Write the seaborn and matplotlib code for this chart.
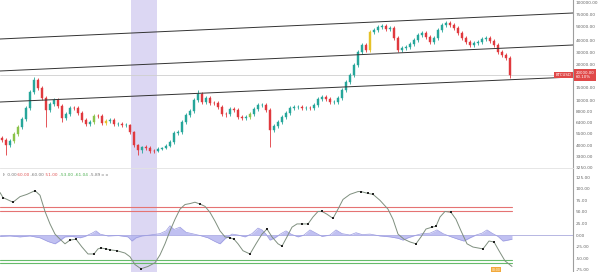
import numpy as np
import matplotlib
matplotlib.use("Agg")
import matplotlib.pyplot as plt
import seaborn as sns

# ---------------- data ----------------
first_open = 4875
closes = [4625, 4000, 4500, 5375, 5990, 6840, 8540, 13080, 16530, 14620,
          10770, 8180, 9270, 10000, 8910, 6985, 7565, 8544, 8480, 7710,
          6695, 6236, 6400, 7275, 7230, 6318, 6550, 6690, 6240, 6250,
          6150, 6160, 5580, 4000, 3680, 3872, 3808, 3616, 3600, 3744,
          3808, 3936, 4375, 5500, 5580, 6400, 7420, 8000, 10000, 12305,
          9636, 10765, 9454, 9400, 8726, 7565, 7500, 8362, 8180, 7130,
          6985, 7130, 7565, 8362, 9090, 9150, 8180, 5744, 6072, 6400,
          7130, 7710, 8544, 8726, 8800, 8544, 8600, 8500, 9090, 10380,
          11150, 10380, 9636, 9700, 10765, 13845, 16094, 17613, 19783, 30000,
          35835, 31670, 45716, 47144, 49286, 50000, 47858, 48572, 41432, 31670,
          33336, 34169, 36668, 40000, 43574, 45002, 42146, 38334, 41432, 47144,
          52087, 56253, 52087, 48572, 45002, 41432, 38334, 35835, 37501, 38334,
          40718, 41432, 39167, 35835, 30000, 27501, 25002, 17613]
highs = [5125, 4875, 4750, 5580, 6154, 7130, 8908, 13845, 17179, 16962,
         15226, 11535, 9636, 10765, 10765, 9272, 7855, 8908, 8908, 8908,
         8000, 6985, 6695, 7565, 7565, 7565, 6840, 6985, 6985, 6400,
         6400, 6318, 6236, 5662, 4125, 3936, 4000, 3936, 3744, 3872,
         3872, 4125, 4625, 5662, 5744, 6695, 7710, 8362, 10765, 13845,
         13075, 11535, 11535, 9818, 9818, 9090, 7855, 8726, 8726, 8544,
         7420, 7420, 7855, 8726, 9454, 9454, 9454, 8544, 6236, 6695,
         7420, 8000, 8908, 9090, 9090, 9090, 8908, 8908, 9454, 11150,
         11920, 11920, 11150, 10000, 11535, 14615, 16528, 18047, 20837, 31670,
         37501, 37501, 47144, 48572, 52083, 54167, 54167, 50000, 50000, 42860,
         35002, 35835, 38334, 41432, 45002, 46430, 46430, 43574, 42860, 48572,
         56250, 60417, 60417, 56250, 50000, 46430, 42860, 40000, 39167, 40000,
         42146, 42860, 42860, 40718, 37501, 31670, 29167, 26668]
lows = [4375, 3360, 3872, 4250, 5125, 5826, 6550, 8180, 12305, 13845,
        10000, 5990, 7855, 8908, 8544, 6400, 6695, 7275, 8180, 7420,
        6400, 6072, 6072, 6236, 6985, 6154, 6154, 6318, 6072, 6072,
        5990, 5990, 5375, 3872, 3360, 3488, 3680, 3488, 3488, 3552,
        3680, 3744, 3872, 4125, 5250, 5375, 6236, 7130, 7710, 9636,
        9272, 9272, 9090, 9090, 8362, 7275, 7130, 7275, 7855, 6840,
        6695, 6695, 6840, 7275, 8000, 8726, 7855, 3872, 5580, 5908,
        6236, 6840, 7420, 8180, 8362, 8180, 8180, 8180, 8180, 8726,
        9818, 9818, 9272, 9272, 9272, 10000, 13075, 15660, 17179, 19349,
        28334, 30000, 30000, 44288, 45716, 47858, 46430, 46430, 40000, 30000,
        30000, 31670, 32503, 35002, 38334, 42146, 40718, 36668, 36668, 40000,
        45716, 49286, 49286, 47144, 43574, 40000, 36668, 34169, 34169, 35835,
        36668, 39167, 37501, 34169, 28334, 25835, 23336, 16962]
lime_idx = [3, 4, 23, 62]
yellow_idx = [26, 92]

# channel lines (candle index, price)
channel_x = [-0.5, 142.75]
channel_top = [40718, 77087]
channel_mid = [18481, 35835]
channel_low = [9636, 17179]

# highlighted period (candle index)
band = [32.25, 38.75]

# right axis labels
price_ticks = [100000, 75000, 50000, 40000, 30000, 20000, 15000, 10000,
               8000, 6400, 5500, 4000, 3300, 3250]
osc_ticks = [125, 100, 75, 50, 25, 0, -25, -50, -75]

# oscillator
osc_x = [-0.5, 0.25, 2.75, 4.5, 6.25, 8.25, 9.5, 10.75, 12, 13.25,
         14.5, 15.75, 17, 18.5, 20, 21.5, 23, 24, 24.75, 26,
         27, 28.75, 30.75, 32, 33.25, 34.75, 36.5, 38.25, 39.5, 40.75,
         42, 43.25, 44.5, 45.75, 47, 48.25, 49.5, 50.75, 52, 53.25,
         54.5, 55.75, 57, 58, 59, 60.25, 62, 63.5, 65, 66.25,
         67.5, 69, 70, 71.25, 72.5, 73.75, 75, 76.5, 77.75, 79,
         80, 81.25, 82.75, 84, 85.25, 87, 89, 89.75, 91.5, 92.75,
         94.5, 96.5, 97.75, 99, 100.5, 102, 103.5, 104.75, 106, 107.5,
         108.5, 109.5, 110.75, 112.25, 113.5, 114.75, 116.25, 117.75, 119, 120.25,
         121.75, 123, 124.25, 125.75, 127.5]
osc_y = [92, 81, 71, 83, 88, 96, 86, 51, 24, 2,
         -9, -19, -11, -9, -26, -41, -41, -30, -28, -30,
         -32, -34, -39, -47, -64, -73, -68, -60, -43, -19,
         9, 34, 56, 66, 68, 71, 67, 62, 49, 30,
         9, -4, -6, -9, -19, -34, -41, -19, 2, 13,
         -4, -19, -24, -4, 17, 24, 24, 24, 39, 51,
         51, 45, 36, 56, 77, 88, 94, 94, 90, 88,
         75, 56, 34, 2, -9, -15, -19, -4, 13, 17,
         19, 39, 51, 49, 34, 9, -19, -26, -28, -30,
         -13, -15, -34, -56, -68]
osc_dots = [1, 2, 5, 12, 13, 16, 18, 19, 20, 21, 25, 36, 42, 43, 46, 49, 52,
            56, 57, 60, 62, 67, 68, 69, 76, 79, 80, 83, 89, 91]

hist_x = [-0.5, 2, 4.5, 7, 9.5, 11.5, 13.25, 14.5, 15.75, 17.5,
          19.5, 20.75, 22.5, 23.5, 24.5, 26.5, 29, 31.5, 32.5, 33.5,
          35, 37, 39.5, 41, 42, 43, 44.5, 46, 47.5, 49.5,
          51.5, 53.25, 54.5, 55.75, 57.5, 59, 60.75, 62.5, 64, 65,
          66, 67, 68.25, 69.75, 71, 72.25, 74, 75.5, 77, 78.5,
          80, 82, 83.5, 85, 87, 88.5, 90, 92, 94.5, 97,
          99, 100.25, 101.5, 103.25, 105, 107, 108.75, 110.25, 112, 114,
          115.5, 117, 118.5, 120, 121.25, 122.5, 124, 125.25, 126.5, 127.5]
hist_y = [-3, -2, -4, -2, -6, -14, -19, -12, -4, -3,
          -6, -3, 4, 9, 2, -2, -1, -4, -13, -6,
          -2, 0, 3, 9, 20, 12, 17, 6, 3, -1,
          -6, -14, -19, -8, 2, 0, -4, 3, 15, 11,
          2, -11, -6, 3, 9, 2, -4, 0, 11, 4,
          -3, 0, 11, 3, 0, 5, 1, 2, -2, -4,
          -7, -11, -6, -1, 3, 4, 11, 3, -3, -9,
          -13, -6, 0, 4, 11, 4, -3, -13, -11, -9]
osc_levels_red = [60, 51]
osc_levels_green = [-53, -60]

legend_parts = [("l)", "#777777"), ("0.00", "#777777"), ("60.00", "#e05555"),
                ("-60.00", "#777777"), ("51.00", "#e05555"), ("-53.00", "#4caf50"),
                ("-61.04", "#4caf50"), ("-5.89", "#777777"), ("\u00a4 \u00a4", "#777777")]
symbol_label = "BTCUSD"
price_label = "20000.00\n60.10%"

# ---------------- style ----------------
UP = "#26a69a"
DOWN = "#e0393e"
LIME = "#8bc34a"
YELLOW = "#e6c229"
BAND = "#dcd7f3"

sns.set_theme(style="white")
plt.rcParams["font.family"] = ["DejaVu Sans"]

fig = plt.figure(figsize=(6, 2.72), dpi=100)
ax = fig.add_axes([0, 104 / 272, 573 / 600, 168 / 272])
ax2 = fig.add_axes([0, 0, 573 / 600, 104 / 272])

# custom price scale matched to the reference axis labels
anchor_vals = np.array([1000, 3250, 3300, 4000, 5500, 6400, 8000, 10000, 15000,
                        20000, 30000, 40000, 50000, 75000, 100000, 200000], float)
anchor_pos = -np.array([200, 167, 156, 145, 133, 122, 111, 100, 87, 64, 52,
                        40, 26, 14, 2, -44], float)


def fwd(v):
    return np.interp(np.asarray(v, float), anchor_vals, anchor_pos)


def inv(h):
    return np.interp(np.asarray(h, float), anchor_pos, anchor_vals)


ax.set_yscale("function", functions=(fwd, inv))

n = len(closes)
idx = np.arange(n)
opens = [first_open] + closes[:-1]
colors = []
for i in range(n):
    c = UP if closes[i] >= opens[i] else DOWN
    if i in lime_idx:
        c = LIME
    if i in yellow_idx:
        c = YELLOW
    colors.append(c)

for a in (ax, ax2):
    a.axvspan(band[0], band[1], color=BAND, lw=0, zorder=0)

ax.vlines(idx, lows, highs, colors=colors, lw=0.6, zorder=2)
bottoms = [min(o, c) for o, c in zip(opens, closes)]
heights = [abs(c - o) for o, c in zip(opens, closes)]
ax.bar(idx, heights, bottom=bottoms, width=0.6, color=colors,
       edgecolor=colors, linewidth=0.3, zorder=3)

for ys in (channel_top, channel_mid, channel_low):
    ax.plot(channel_x, ys, color="#333333", lw=0.7, zorder=4)

ax.axhline(closes[-1], color="#cfcfcf", lw=0.6, zorder=1)

ax.set_xlim(-0.5, 142.75)
ax.set_ylim(3182, 104348)
ax.set_yticks(price_ticks)
ax.set_yticklabels([f"{v:.2f}" for v in price_ticks])
ax.minorticks_off()

ax.text(0.997, closes[-1], symbol_label, transform=ax.get_yaxis_transform(),
        ha="right", va="center", fontsize=2.8, color="white", zorder=6,
        bbox=dict(fc="#e04848", ec="none", pad=0.9))
ax.text(1.004, closes[-1], price_label, transform=ax.get_yaxis_transform(),
        ha="left", va="center", fontsize=2.9, color="white", zorder=6,
        linespacing=1.0, clip_on=False,
        bbox=dict(fc="#e04848", ec="none", pad=1.2))

# oscillator panel
ax2.axhline(0, color="#9a9ad6", lw=0.5, zorder=1)
ax2.fill_between(hist_x, 0, hist_y, color="#b5b5ef", alpha=0.85, lw=0, zorder=1)
ax2.plot(hist_x, hist_y, color="#9b9be0", lw=0.5, zorder=1)
xr = [-0.5, 127.5]
for lv in osc_levels_red:
    ax2.plot(xr, [lv, lv], color="#e57373", lw=0.8, zorder=2)
for lv in osc_levels_green:
    ax2.plot(xr, [lv, lv], color="#66bb6a", lw=0.8, zorder=2)

sns.lineplot(x=osc_x, y=osc_y, ax=ax2, color="#7f8f7f", lw=0.7, sort=False,
             zorder=3, legend=False)
sns.scatterplot(x=[osc_x[k] for k in osc_dots], y=[osc_y[k] for k in osc_dots],
                ax=ax2, color="#222222", s=4, marker="s", linewidth=0,
                zorder=4, legend=False)

ax2.set_xlim(-0.5, 142.75)
ax2.set_ylim(-80, 145)
ax2.set_yticks(osc_ticks)
ax2.set_yticklabels([f"{v:.2f}" for v in osc_ticks])

ax2.text(123.5, -79, "08:00", fontsize=2.2, color="white", ha="center",
         va="bottom", zorder=6, bbox=dict(fc="#f2a93b", ec="none", pad=0.6))

# legend line in oscillator panel
prev = ax2.text(0.005, 0.955, legend_parts[0][0], transform=ax2.transAxes,
                fontsize=3.1, color=legend_parts[0][1], ha="left", va="top")
for txt, col in legend_parts[1:]:
    prev = ax2.annotate(" " + txt, xycoords=prev, xy=(1, 0), fontsize=3.1,
                        color=col, ha="left", va="bottom")

for a in (ax, ax2):
    a.yaxis.tick_right()
    a.tick_params(axis="y", length=0, pad=2, labelsize=3.1, labelcolor="#666666")
    a.tick_params(axis="x", bottom=False, labelbottom=False)
    a.set_xlabel("")
    a.set_ylabel("")
    for s in ("left", "top", "bottom"):
        a.spines[s].set_visible(False)
    a.spines["right"].set_color("#9e9e9e")
    a.spines["right"].set_linewidth(0.8)
    a.set_facecolor("white")
    a.grid(False)

ax2.spines["top"].set_visible(True)
ax2.spines["top"].set_color("#e2e2e2")
ax2.spines["top"].set_linewidth(0.6)

fig.savefig("out.png", dpi=100, facecolor="white")
